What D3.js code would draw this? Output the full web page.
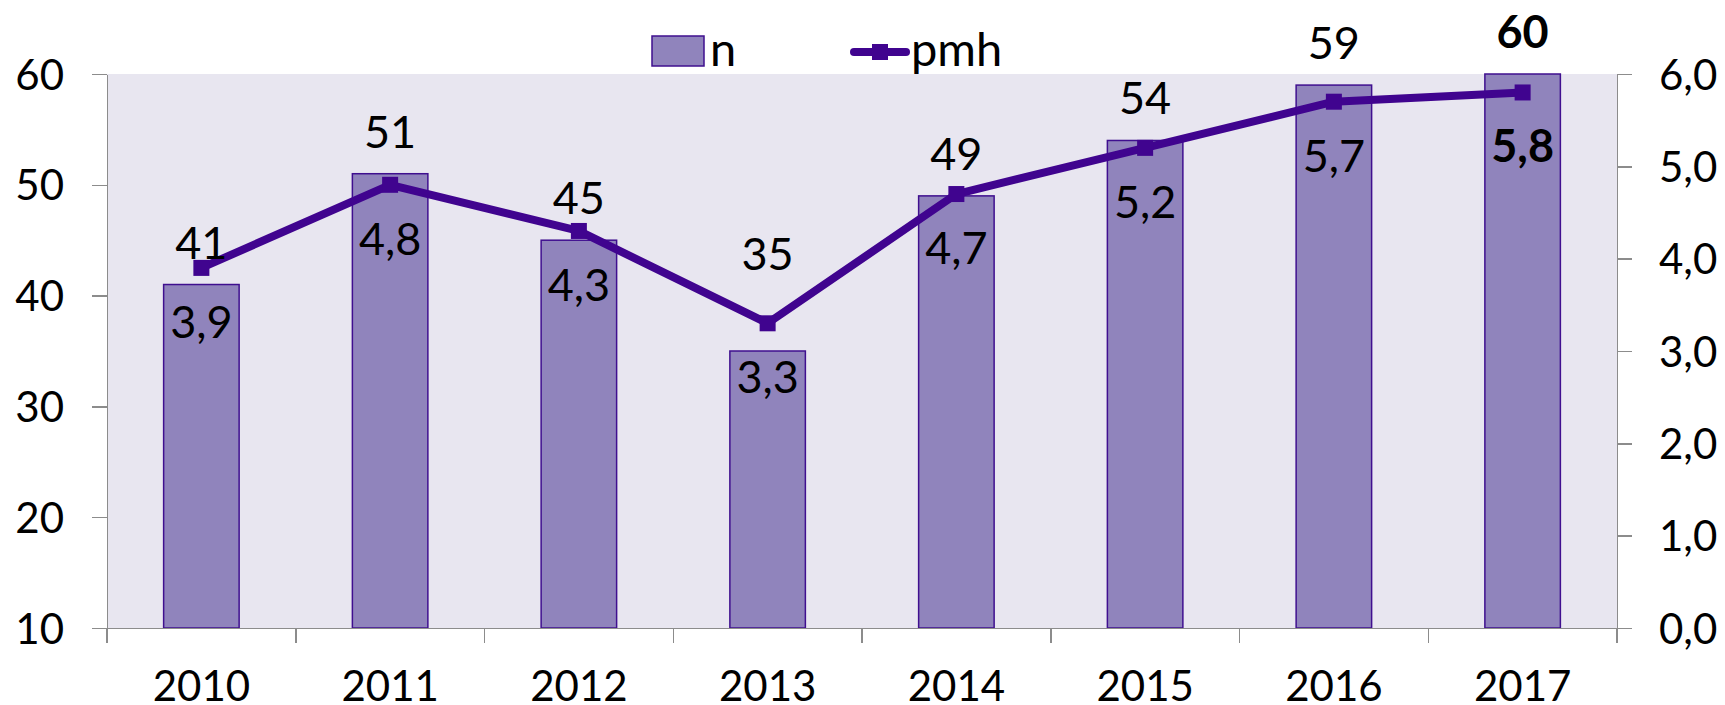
<!DOCTYPE html>
<html lang="en">
<head>
<meta charset="utf-8">
<title>n / pmh 2010-2017</title>
<style>
body {
  margin: 0;
  background: #fff;
}
svg text {
  font-family: Lato, "Open Sans", sans-serif;
  fill: #000;
}
.axis path, .axis line {
  fill: none;
  stroke: #8c8c8c;
  stroke-width: 1.5px;
  shape-rendering: crispEdges;
}
</style>
</head>
<body>
<div id="chart"></div>

<script src="https://d3js.org/d3.v7.min.js"></script>
<script>
// data
var years = ["2010", "2011", "2012", "2013", "2014", "2015", "2016", "2017"];
var nValues = [41, 51, 45, 35, 49, 54, 59, 60];
var pmhValues = [3.9, 4.8, 4.3, 3.3, 4.7, 5.2, 5.7, 5.8];
var leftTicks = [10, 20, 30, 40, 50, 60];
var rightTicks = [0, 1, 2, 3, 4, 5, 6];
var seriesNames = ["n", "pmh"];
var boldYears = ["2017"];      // last year labels are bold
var liftedLabels = ["2013"];   // n label moved above the line

var W = 1725, H = 705;
var plot = { left: 107, right: 1617, top: 74, bottom: 628 };

var barFill = "#9084bc", barStroke = "#3f0f8f", lineColor = "#40048f";

var comma = d3.formatLocale({ decimal: ",", thousands: ".", grouping: [3], currency: ["", ""] });
var fmt1 = comma.format(".1f");

var svg = d3.select("#chart").append("svg")
    .attr("width", W)
    .attr("height", H);

// plot background
svg.append("rect")
    .attr("x", plot.left)
    .attr("y", plot.top)
    .attr("width", plot.right - plot.left)
    .attr("height", plot.bottom - plot.top)
    .attr("fill", "#e8e6f0");

// scales
var x = d3.scaleBand().domain(years).range([plot.left, plot.right]);
var xBar = d3.scaleBand().domain(years).range([plot.left, plot.right])
    .paddingInner(0.6).paddingOuter(0.3);
var yL = d3.scaleLinear().domain([10, 60]).range([plot.bottom, plot.top]);
var yR = d3.scaleLinear().domain([0, 6]).range([plot.bottom, plot.top]);

var rows = years.map(function(y, i) {
  return { year: y, n: nValues[i], pmh: pmhValues[i] };
});

// bars
svg.selectAll(".bar")
  .data(rows)
  .enter().append("rect")
    .attr("class", "bar")
    .attr("x", function(d) { return xBar(d.year); })
    .attr("y", function(d) { return yL(d.n); })
    .attr("width", xBar.bandwidth())
    .attr("height", function(d) { return yL(10) - yL(d.n); })
    .attr("fill", barFill)
    .attr("stroke", barStroke)
    .attr("stroke-width", 1.5);

// axes
var leftAxis = svg.append("g")
    .attr("class", "axis")
    .attr("transform", "translate(" + plot.left + ",0)")
    .call(d3.axisLeft(yL).tickValues(leftTicks).tickSize(15).tickSizeOuter(0).tickPadding(28));

var rightAxis = svg.append("g")
    .attr("class", "axis")
    .attr("transform", "translate(" + plot.right + ",0)")
    .call(d3.axisRight(yR).tickValues(rightTicks).tickSize(15).tickSizeOuter(0).tickPadding(27)
      .tickFormat(fmt1));

var bottomAxis = svg.append("g")
    .attr("class", "axis")
    .attr("transform", "translate(0," + plot.bottom + ")")
    .call(d3.axisBottom(x).tickSize(0).tickSizeOuter(0).tickPadding(0));

// category boundary ticks
bottomAxis.selectAll(".bound")
  .data(d3.range(years.length + 1))
  .enter().append("line")
    .attr("class", "bound")
    .attr("x1", function(i) { return plot.left + i * x.step(); })
    .attr("x2", function(i) { return plot.left + i * x.step(); })
    .attr("y1", 0)
    .attr("y2", 15);

svg.selectAll(".axis text")
    .style("font-size", "42px")
    .attr("dy", "0.36em");
bottomAxis.selectAll(".tick text")
    .attr("dy", null)
    .attr("y", 73);

// line
var line = d3.line()
    .x(function(d) { return x(d.year) + x.bandwidth() / 2; })
    .y(function(d) { return yR(d.pmh); });

svg.append("path")
    .datum(rows)
    .attr("d", line)
    .attr("fill", "none")
    .attr("stroke", lineColor)
    .attr("stroke-width", 8)
    .attr("stroke-linejoin", "round");

svg.selectAll(".marker")
  .data(rows)
  .enter().append("rect")
    .attr("class", "marker")
    .attr("x", function(d) { return x(d.year) + x.bandwidth() / 2 - 8; })
    .attr("y", function(d) { return yR(d.pmh) - 8; })
    .attr("width", 16)
    .attr("height", 16)
    .attr("fill", lineColor);

// data labels
function isBold(d) { return boldYears.indexOf(d.year) >= 0; }

svg.selectAll(".nlabel")
  .data(rows)
  .enter().append("text")
    .attr("class", "nlabel")
    .attr("x", function(d) { return x(d.year) + x.bandwidth() / 2; })
    .attr("y", function(d) {
      if (liftedLabels.indexOf(d.year) >= 0) return yR(d.pmh) - 53;
      return yL(d.n) - 26;
    })
    .attr("text-anchor", "middle")
    .style("font-size", "45px")
    .style("font-weight", function(d) { return isBold(d) ? "bold" : "normal"; })
    .text(function(d) { return d.n; });

svg.selectAll(".plabel")
  .data(rows)
  .enter().append("text")
    .attr("class", "plabel")
    .attr("x", function(d) { return x(d.year) + x.bandwidth() / 2; })
    .attr("y", function(d) { return yR(d.pmh) + 70; })
    .attr("text-anchor", "middle")
    .style("font-size", "45px")
    .style("font-weight", function(d) { return isBold(d) ? "bold" : "normal"; })
    .text(function(d) { return fmt1(d.pmh); });

// legend
var legend = svg.append("g");
legend.append("rect")
    .attr("x", 652).attr("y", 36)
    .attr("width", 52).attr("height", 30)
    .attr("fill", barFill)
    .attr("stroke", barStroke)
    .attr("stroke-width", 1.5);
legend.append("text")
    .attr("x", 710).attr("y", 66)
    .style("font-size", "47px")
    .text(seriesNames[0]);

legend.append("line")
    .attr("x1", 854).attr("x2", 906)
    .attr("y1", 52).attr("y2", 52)
    .attr("stroke", lineColor)
    .attr("stroke-width", 8)
    .attr("stroke-linecap", "round");
legend.append("rect")
    .attr("x", 872).attr("y", 44)
    .attr("width", 16).attr("height", 16)
    .attr("fill", lineColor);
legend.append("text")
    .attr("x", 911).attr("y", 66)
    .style("font-size", "47px")
    .text(seriesNames[1]);
</script>
</body>
</html>
